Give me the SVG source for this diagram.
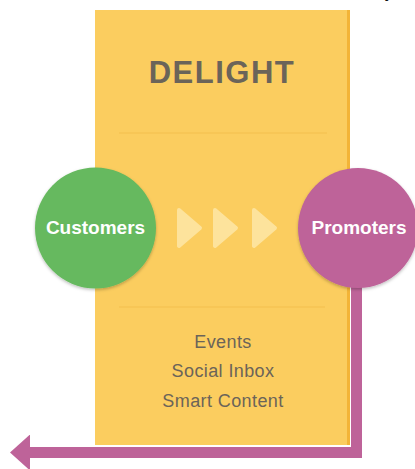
<svg xmlns="http://www.w3.org/2000/svg" width="415" height="469" viewBox="0 0 415 469">
<style>
.lbl{font-family:"Liberation Sans",Arial,sans-serif;font-weight:bold;fill:#ffffff;font-size:19px;text-anchor:middle}
.item{font-family:"Liberation Sans",Arial,sans-serif;fill:#6b6459;font-size:18px;text-anchor:middle;letter-spacing:0.4px}
.div{stroke:#f3c04e;stroke-width:1.2}
.chev{fill:#fde39c;stroke:#fde39c;stroke-width:4;stroke-linejoin:round}
</style>
<defs>
<filter id="sh" x="-20%" y="-20%" width="140%" height="140%">
<feDropShadow dx="0" dy="1.5" stdDeviation="1.5" flood-color="#000" flood-opacity="0.25"/>
</filter>
<marker id="ah" markerWidth="20" markerHeight="36" refX="0" refY="18" orient="auto" markerUnits="userSpaceOnUse" viewBox="0 0 20 36">
<path d="M0,0 L20,18 L0,36 Z" fill="#be6399"/>
</marker>
</defs>
<rect width="415" height="469" fill="#ffffff"/>
<text x="387" y="-3" font-family="Liberation Serif,serif" font-weight="bold" font-style="italic" font-size="18" fill="#111">y</text>
<g id="delight">
<rect x="95" y="10" width="255" height="435" fill="#fbcd5f"/>
<line x1="348.5" y1="10" x2="348.5" y2="445" stroke="#f3b437" stroke-width="3"/>
<text x="222" y="83" font-family="Liberation Sans,Arial,sans-serif" font-weight="bold" font-size="31" fill="#6b6459" text-anchor="middle" letter-spacing="1.5">DELIGHT</text>
<line class="div" x1="119" y1="133" x2="327" y2="133"/>
<line class="div" x1="119" y1="307" x2="325" y2="307"/>
<text class="item" x="223" y="348">Events</text>
<text class="item" x="223" y="377">Social Inbox</text>
<text class="item" x="223" y="407">Smart Content</text>
</g>
<g id="connectors">
<path d="M356.5,280 V452.5 H30" fill="none" stroke="#be6399" stroke-width="11" marker-end="url(#ah)"/>
<g id="chevrons">
<path class="chev" d="M179,210 L200,228 L179,246 Z"/>
<path class="chev" d="M215,210 L236,228 L215,246 Z"/>
<path class="chev" d="M254,210 L275,228 L254,246 Z"/>
</g>
</g>
<g id="customers">
<circle cx="95.5" cy="228" r="60.5" fill="#66b95e" filter="url(#sh)"/>
<text class="lbl" x="95.5" y="234">Customers</text>
</g>
<g id="promoters">
<circle cx="358" cy="228" r="60" fill="#be6399" filter="url(#sh)"/>
<text class="lbl" x="359" y="234" font-size="18.5">Promoters</text>
</g>
</svg>
